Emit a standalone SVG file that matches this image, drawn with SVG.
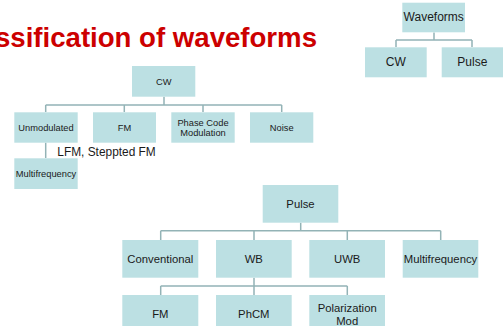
<svg xmlns="http://www.w3.org/2000/svg" width="503" height="326" viewBox="0 0 503 326">
<style>
.box{fill:#bce0e3}
.t{font-family:"Liberation Sans",Arial,sans-serif;fill:#1a1a1a;text-anchor:middle}
.s{font-size:9.3px}
.m{font-size:11.3px}
.l{font-size:12px}
.c{fill:none;stroke:#93b3b6;stroke-width:1.5}
</style>
<rect width="503" height="326" fill="#ffffff"/>
<text x="317" y="47" font-family="'Liberation Sans',Arial,sans-serif" font-weight="bold" font-size="27.6" fill="#cc0000" text-anchor="end">Classification of waveforms</text>
<g id="connectors">
<path class="c" d="M434 32.5V40M396 40H472M396 40V47M472 40V47"/>
<path class="c" d="M164 96.7V105M45.7 105H281.7M45.7 105V112M124.3 105V112M203 105V112M281.7 105V112"/>
<path class="c" d="M45.7 142.7V158"/>
<path class="c" d="M300.7 222.7V230.7M160.7 230.7H440.7M160.7 230.7V240M254 230.7V240M347.3 230.7V240M440.7 230.7V240"/>
<path class="c" d="M254 277.7V286M160.7 286H347.3M160.7 286V295M254 286V295M347.3 286V295"/>
</g>
<g id="waveforms"><rect class="box" x="402.3" y="2.7" width="62.7" height="29.6"/><text class="t l" x="433.7" y="21">Waveforms</text></g>
<g id="cw-top"><rect class="box" x="365" y="47.3" width="61.7" height="30"/><text class="t l" x="395.8" y="66">CW</text></g>
<g id="pulse-top"><rect class="box" x="441.7" y="47.3" width="61.3" height="30"/><text class="t l" x="472.3" y="66">Pulse</text></g>
<g id="cw"><rect class="box" x="132" y="66" width="63.3" height="30.7"/><text class="t s" x="163.7" y="84.5">CW</text></g>
<g id="unmodulated"><rect class="box" x="14.3" y="112.3" width="63.4" height="30.4"/><text class="t s" x="46" y="130.7">Unmodulated</text></g>
<g id="fm"><rect class="box" x="93" y="112.3" width="63" height="30.4"/><text class="t s" x="124.5" y="130.7">FM</text></g>
<g id="phase-code"><rect class="box" x="171.3" y="112.3" width="63.4" height="30.4"/><text class="t s" x="203" y="126">Phase Code</text><text class="t s" x="203" y="136">Modulation</text></g>
<g id="noise"><rect class="box" x="250" y="112.3" width="63.3" height="30.4"/><text class="t s" x="281.7" y="130.7">Noise</text></g>
<g id="multifrequency-cw"><rect class="box" x="14.3" y="158.3" width="63.4" height="30.7"/><text class="t s" x="46" y="176.7">Multifrequency</text></g>
<text x="57.3" y="156" font-family="'Liberation Sans',Arial,sans-serif" font-size="11.9" fill="#1a1a1a">LFM, Steppted FM</text>
<g id="pulse"><rect class="box" x="262.7" y="185" width="75.6" height="37.7"/><text class="t m" x="300.5" y="208">Pulse</text></g>
<g id="conventional"><rect class="box" x="122.3" y="240" width="76" height="37.7"/><text class="t m" x="160.3" y="263">Conventional</text></g>
<g id="wb"><rect class="box" x="216" y="240" width="75.7" height="37.7"/><text class="t m" x="253.8" y="263">WB</text></g>
<g id="uwb"><rect class="box" x="309.3" y="240" width="75.7" height="37.7"/><text class="t m" x="347.2" y="263">UWB</text></g>
<g id="multifrequency"><rect class="box" x="402.7" y="240" width="75.6" height="37.7"/><text class="t m" x="440.5" y="263">Multifrequency</text></g>
<g id="fm-wb"><rect class="box" x="122.3" y="295" width="76" height="37.7"/><text class="t m" x="160.3" y="318">FM</text></g>
<g id="phcm"><rect class="box" x="216" y="295" width="75.7" height="37.7"/><text class="t m" x="253.8" y="318">PhCM</text></g>
<g id="polarization"><rect class="box" x="309.3" y="295" width="75.7" height="37.7"/><text class="t m" x="347.2" y="311.5">Polarization</text><text class="t m" x="347.2" y="324.5">Mod</text></g>
</svg>
